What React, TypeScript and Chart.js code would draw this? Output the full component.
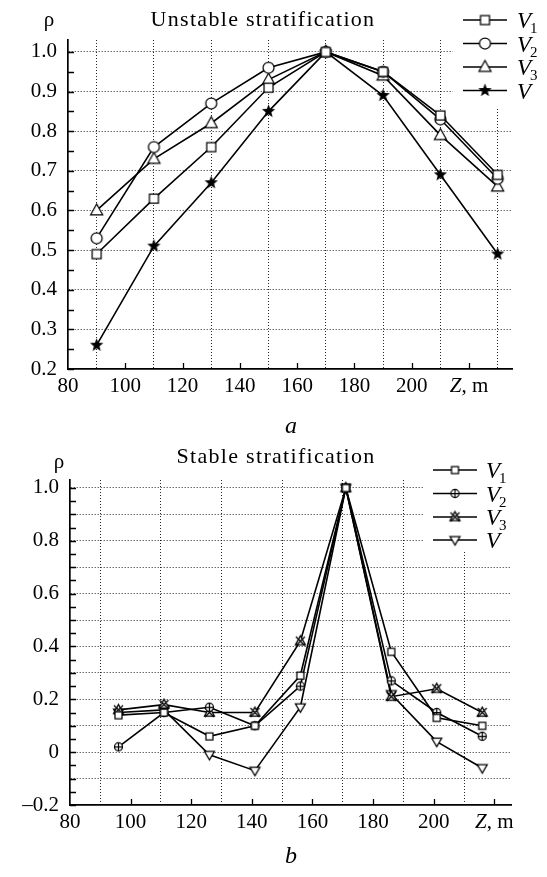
import React, { useEffect, useRef } from 'react';
import { Chart, registerables } from 'chart.js';

Chart.register(...registerables);

const SERIF = '"Liberation Serif", "Times New Roman", serif';

// ---------- (a) Unstable stratification ----------
const Z_UNSTABLE = [90, 110, 130, 150, 170, 190, 210, 230];
const V1_UNSTABLE = [0.49, 0.63, 0.76, 0.91, 1.0, 0.95, 0.84, 0.69];
const V2_UNSTABLE = [0.53, 0.76, 0.87, 0.96, 1.0, 0.95, 0.83, 0.68];
const V3_UNSTABLE = [0.60, 0.73, 0.82, 0.93, 1.0, 0.94, 0.79, 0.66];
const V_UNSTABLE = [0.26, 0.51, 0.67, 0.85, 1.0, 0.89, 0.69, 0.49];

const UNSTABLE_X_TICKS = [80, 90, 100, 110, 120, 130, 140, 150, 160, 170, 180, 190, 200, 210, 220, 230];
const UNSTABLE_X_LABELLED = [80, 100, 120, 140, 160, 180, 200];
const UNSTABLE_X_GRID = [90, 110, 130, 150, 170, 190, 210, 230];
const UNSTABLE_X_MINOR = [100, 120, 140, 160, 180, 200, 220];
const UNSTABLE_Y_TICKS = [0.2, 0.25, 0.3, 0.35, 0.4, 0.45, 0.5, 0.55, 0.6, 0.65, 0.7, 0.75, 0.8, 0.85, 0.9, 0.95, 1.0];
const UNSTABLE_Y_LABELLED = [0.2, 0.3, 0.4, 0.5, 0.6, 0.7, 0.8, 0.9, 1.0];
const UNSTABLE_Y_GRID = [0.3, 0.4, 0.5, 0.6, 0.7, 0.8, 0.9, 1.0];

// ---------- (b) Stable stratification ----------
const Z_STABLE = [96, 111, 126, 141, 156, 171, 186, 201, 216];
const V1_STABLE = [0.14, 0.15, 0.06, 0.10, 0.29, 1.0, 0.38, 0.13, 0.10];
const V2_STABLE = [0.02, 0.15, 0.17, 0.10, 0.25, 1.0, 0.27, 0.15, 0.06];
const V3_STABLE = [0.16, 0.18, 0.15, 0.15, 0.42, 1.0, 0.21, 0.24, 0.15];
const V_STABLE = [0.15, 0.16, -0.01, -0.07, 0.17, 1.0, 0.22, 0.04, -0.06];

const STABLE_X_TICKS = [80, 90, 100, 110, 120, 130, 140, 150, 160, 170, 180, 190, 200, 210, 220];
const STABLE_X_LABELLED = [80, 100, 120, 140, 160, 180, 200];
const STABLE_X_GRID = [90, 110, 130, 150, 170, 190, 210];
const STABLE_X_MINOR = [100, 120, 140, 160, 180, 200, 220];
const STABLE_Y_TICKS = [-0.2, -0.15, -0.1, -0.05, 0, 0.05, 0.1, 0.15, 0.2, 0.25, 0.3, 0.35, 0.4, 0.45, 0.5, 0.55, 0.6, 0.65, 0.7, 0.75, 0.8, 0.85, 0.9, 0.95, 1.0];
const STABLE_Y_LABELLED = [-0.2, 0, 0.2, 0.4, 0.6, 0.8, 1.0];
const STABLE_Y_LABEL_TEXT = ['\u20130.2', '0', '0.2', '0.4', '0.6', '0.8', '1.0'];
const STABLE_Y_GRID = [-0.1, 0, 0.1, 0.2, 0.3, 0.4, 0.5, 0.6, 0.7, 0.8, 0.9, 1.0];

const key = (v: number) => Math.round(v * 100);

function makeMarker(kind: string, size: number): HTMLCanvasElement {
  const dim = 17;
  const c = document.createElement('canvas');
  c.width = dim;
  c.height = dim;
  const g = c.getContext('2d')!;
  const cx = dim / 2;
  const cy = dim / 2;
  const s = size;
  g.lineWidth = 1.25;
  g.strokeStyle = '#000';
  g.fillStyle = '#fff';
  g.beginPath();
  if (kind === 'square') {
    g.rect(cx - s / 2, cy - s / 2, s, s);
    g.fill();
    g.stroke();
  } else if (kind === 'circle') {
    g.arc(cx, cy, s / 2, 0, Math.PI * 2);
    g.fill();
    g.stroke();
  } else if (kind === 'circlePlus') {
    g.arc(cx, cy, s / 2, 0, Math.PI * 2);
    g.fill();
    g.stroke();
    g.beginPath();
    g.moveTo(cx - s / 2, cy);
    g.lineTo(cx + s / 2, cy);
    g.moveTo(cx, cy - s / 2);
    g.lineTo(cx, cy + s / 2);
    g.stroke();
  } else if (kind === 'triangle' || kind === 'triangleX') {
    const h = s * 0.9;
    g.moveTo(cx, cy - h * 0.6);
    g.lineTo(cx + s / 2, cy + h * 0.4);
    g.lineTo(cx - s / 2, cy + h * 0.4);
    g.closePath();
    g.fill();
    g.stroke();
    if (kind === 'triangleX') {
      const a = s * 0.45;
      g.beginPath();
      g.moveTo(cx - a, cy - a);
      g.lineTo(cx + a, cy + a);
      g.moveTo(cx + a, cy - a);
      g.lineTo(cx - a, cy + a);
      g.stroke();
    }
  } else if (kind === 'triangleDown') {
    const h = s * 0.85;
    g.moveTo(cx, cy + h * 0.6);
    g.lineTo(cx + s / 2, cy - h * 0.4);
    g.lineTo(cx - s / 2, cy - h * 0.4);
    g.closePath();
    g.fill();
    g.stroke();
  } else if (kind === 'star') {
    const R = s / 2;
    const r = R * 0.42;
    for (let i = 0; i < 10; i++) {
      const ang = -Math.PI / 2 + (i * Math.PI) / 5;
      const rad = i % 2 === 0 ? R : r;
      const px = cx + rad * Math.cos(ang);
      const py = cy + rad * Math.sin(ang);
      if (i === 0) g.moveTo(px, py);
      else g.lineTo(px, py);
    }
    g.closePath();
    g.fillStyle = '#000';
    g.fill();
  }
  return c;
}

interface Series { label: string; sub: string; data: number[]; marker: HTMLCanvasElement }
interface Spec {
  W: number; H: number;
  left: number; right: number; top: number; bottom: number;
  xMin: number; xMax: number; yMin: number; yMax: number;
  z: number[]; series: Series[];
  xTicks: number[]; xLabelled: number[]; xGrid: number[]; xMinor: number[];
  yTicks: number[]; yLabelled: number[]; yLabelText: string[]; yGrid: number[];
  title: string; titleX: number; titleY: number;
  rhoX: number; rhoY: number;
  legendBox: [number, number, number, number];
  legendX1: number; legendX2: number; legendMarkerX: number; legendTextX: number; legendRows: number[];
  caption: string; captionX: number; captionY: number;
}

const TICK_FONT = { family: SERIF, size: 21, lineHeight: 1.2 };
const X_PAD = 5;
const GRID_COLOR = 'rgba(0,0,0,0.85)';

function buildConfig(spec: Spec): any {
  const gridX = new Set(spec.xGrid.map(key));
  const gridY = new Set(spec.yGrid.map(key));
  const xLab = new Set(spec.xLabelled.map(key));
  const yLabMap = new Map<number, string>();
  spec.yLabelled.forEach((v, i) => yLabMap.set(key(v), spec.yLabelText[i]));

  const decor = {
    id: 'decor',
    beforeDraw(chart: any) {
      const ctx = chart.ctx;
      ctx.save();
      ctx.fillStyle = '#fff';
      ctx.fillRect(0, 0, chart.width, chart.height);
      ctx.restore();
    },
    afterDraw(chart: any) {
      const ctx = chart.ctx;
      const xs = chart.scales.x;
      const ys = chart.scales.y;
      const area = chart.chartArea;
      ctx.save();
      // inward tick marks
      ctx.strokeStyle = '#000';
      ctx.lineWidth = 1.3;
      ctx.beginPath();
      for (const t of ys.ticks) {
        const py = Math.round(ys.getPixelForValue(t.value)) + 0.5;
        ctx.moveTo(area.left, py);
        ctx.lineTo(area.left + 6, py);
      }
      for (const v of spec.xMinor) {
        const px = Math.round(xs.getPixelForValue(v)) + 0.5;
        ctx.moveTo(px, area.bottom);
        ctx.lineTo(px, area.bottom - 6);
      }
      ctx.stroke();

      // legend
      const [bx, by, bw, bh] = spec.legendBox;
      ctx.fillStyle = '#fff';
      ctx.fillRect(bx, by, bw, bh);
      spec.series.forEach((s, i) => {
        const y = spec.legendRows[i];
        ctx.strokeStyle = '#000';
        ctx.lineWidth = 1.6;
        ctx.beginPath();
        ctx.moveTo(spec.legendX1, y);
        ctx.lineTo(spec.legendX2, y);
        ctx.stroke();
        const m = s.marker;
        ctx.drawImage(m, spec.legendMarkerX - m.width / 2, y - m.height / 2);
        ctx.fillStyle = '#000';
        ctx.textBaseline = 'alphabetic';
        ctx.textAlign = 'left';
        ctx.font = `italic 23px ${SERIF}`;
        ctx.fillText(s.label, spec.legendTextX, y + 8);
        if (s.sub) {
          const w = ctx.measureText(s.label).width;
          ctx.font = `15px ${SERIF}`;
          ctx.fillText(s.sub, spec.legendTextX + w - 1, y + 13);
        }
      });

      // title
      ctx.fillStyle = '#000';
      ctx.textAlign = 'center';
      ctx.textBaseline = 'middle';
      ctx.font = `22px ${SERIF}`;
      (ctx as any).letterSpacing = '1.3px';
      ctx.fillText(spec.title, spec.titleX, spec.titleY);
      (ctx as any).letterSpacing = '0px';

      // rho
      ctx.font = `21px ${SERIF}`;
      ctx.fillText('\u03c1', spec.rhoX, spec.rhoY);

      // axis title "Z, m" in place of the 220 label
      const zx = xs.getPixelForValue(220);
      const ly = area.bottom + X_PAD + (TICK_FONT.size * TICK_FONT.lineHeight) / 2;
      ctx.font = `italic 21px ${SERIF}`;
      const wz = ctx.measureText('Z').width;
      ctx.font = `21px ${SERIF}`;
      const wr = ctx.measureText(', m').width;
      const start = zx - (wz + wr) / 2;
      ctx.textAlign = 'left';
      ctx.font = `italic 21px ${SERIF}`;
      ctx.fillText('Z', start, ly);
      ctx.font = `21px ${SERIF}`;
      ctx.fillText(', m', start + wz, ly);

      // caption
      ctx.textAlign = 'center';
      ctx.font = `italic 24px ${SERIF}`;
      ctx.fillText(spec.caption, spec.captionX, spec.captionY);
      ctx.restore();
    },
  };

  return {
    type: 'line',
    data: {
      datasets: spec.series.map((s) => ({
        label: s.label + s.sub,
        data: spec.z.map((z, i) => ({ x: z, y: s.data[i] })),
        borderColor: '#000',
        backgroundColor: '#fff',
        borderWidth: 1.6,
        pointStyle: s.marker,
        pointRadius: 6,
        pointHoverRadius: 6,
        fill: false,
        tension: 0,
      })),
    },
    options: {
      animation: false,
      responsive: false,
      maintainAspectRatio: false,
      events: [],
      layout: { padding: { left: 0, top: spec.top, right: spec.W - spec.right, bottom: 0 } },
      plugins: { legend: { display: false }, title: { display: false }, tooltip: { enabled: false } },
      scales: {
        x: {
          type: 'linear',
          min: spec.xMin,
          max: spec.xMax,
          afterBuildTicks: (s: any) => { s.ticks = spec.xTicks.map((v) => ({ value: v })); },
          afterFit: (s: any) => { s.height = spec.H - spec.bottom; s.paddingLeft = 0; s.paddingRight = 0; },
          ticks: {
            autoSkip: false,
            maxRotation: 0,
            minRotation: 0,
            padding: X_PAD,
            color: '#000',
            font: TICK_FONT,
            callback: (v: number) => (xLab.has(key(v)) ? String(v) : ''),
          },
          grid: {
            drawTicks: false,
            lineWidth: 1,
            color: (c: any) => (c.tick && gridX.has(key(c.tick.value)) ? GRID_COLOR : 'rgba(0,0,0,0)'),
          },
          border: { display: true, color: '#000', width: 1.7, dash: [1, 2] },
        },
        y: {
          type: 'linear',
          min: spec.yMin,
          max: spec.yMax,
          afterBuildTicks: (s: any) => { s.ticks = spec.yTicks.map((v) => ({ value: v })); },
          afterFit: (s: any) => { s.width = spec.left; s.paddingTop = 0; s.paddingBottom = 0; },
          ticks: {
            autoSkip: false,
            padding: 11,
            color: '#000',
            font: TICK_FONT,
            callback: (v: number) => yLabMap.get(key(v)) ?? '',
          },
          grid: {
            drawTicks: false,
            lineWidth: 1,
            color: (c: any) => (c.tick && gridY.has(key(c.tick.value)) ? GRID_COLOR : 'rgba(0,0,0,0)'),
          },
          border: { display: true, color: '#000', width: 1.7, dash: [1, 2] },
        },
      },
    },
    plugins: [decor],
  };
}

function makeSpecs(): Spec[] {
  const unstable: Spec = {
    W: 547, H: 440,
    left: 68, right: 512, top: 40, bottom: 369,
    xMin: 80, xMax: 235, yMin: 0.2, yMax: 1.03,
    z: Z_UNSTABLE,
    series: [
      { label: 'V', sub: '1', data: V1_UNSTABLE, marker: makeMarker('square', 9) },
      { label: 'V', sub: '2', data: V2_UNSTABLE, marker: makeMarker('circle', 11) },
      { label: 'V', sub: '3', data: V3_UNSTABLE, marker: makeMarker('triangle', 12) },
      { label: 'V', sub: '', data: V_UNSTABLE, marker: makeMarker('star', 14) },
    ],
    xTicks: UNSTABLE_X_TICKS, xLabelled: UNSTABLE_X_LABELLED, xGrid: UNSTABLE_X_GRID, xMinor: UNSTABLE_X_MINOR,
    yTicks: UNSTABLE_Y_TICKS, yLabelled: UNSTABLE_Y_LABELLED,
    yLabelText: UNSTABLE_Y_LABELLED.map((v) => v.toFixed(1)), yGrid: UNSTABLE_Y_GRID,
    title: 'Unstable stratification', titleX: 263, titleY: 20,
    rhoX: 49, rhoY: 20,
    legendBox: [453, 0, 94, 108],
    legendX1: 463, legendX2: 507, legendMarkerX: 485, legendTextX: 517,
    legendRows: [20, 43.5, 67, 90.5],
    caption: 'a', captionX: 291, captionY: 427,
  };
  const stable: Spec = {
    W: 547, H: 437,
    left: 70, right: 511, top: 40, bottom: 365,
    xMin: 80, xMax: 225.5, yMin: -0.2, yMax: 1.03,
    z: Z_STABLE,
    series: [
      { label: 'V', sub: '1', data: V1_STABLE, marker: makeMarker('square', 7) },
      { label: 'V', sub: '2', data: V2_STABLE, marker: makeMarker('circlePlus', 8) },
      { label: 'V', sub: '3', data: V3_STABLE, marker: makeMarker('triangleX', 10) },
      { label: 'V', sub: '', data: V_STABLE, marker: makeMarker('triangleDown', 10) },
    ],
    xTicks: STABLE_X_TICKS, xLabelled: STABLE_X_LABELLED, xGrid: STABLE_X_GRID, xMinor: STABLE_X_MINOR,
    yTicks: STABLE_Y_TICKS, yLabelled: STABLE_Y_LABELLED, yLabelText: STABLE_Y_LABEL_TEXT, yGrid: STABLE_Y_GRID,
    title: 'Stable stratification', titleX: 276, titleY: 17,
    rhoX: 59, rhoY: 22,
    legendBox: [423, 0, 124, 112],
    legendX1: 433, legendX2: 477, legendMarkerX: 455, legendTextX: 486,
    legendRows: [30, 53.5, 77, 100],
    caption: 'b', captionX: 291, captionY: 417,
  };
  return [unstable, stable];
}

function Panel({ which, top, height }: { which: number; top: number; height: number }) {
  const ref = useRef<HTMLCanvasElement>(null);
  useEffect(() => {
    const spec = makeSpecs()[which];
    const chart = new Chart(ref.current!, buildConfig(spec));
    return () => chart.destroy();
  }, [which]);
  return (
    <canvas
      ref={ref}
      width={547}
      height={height}
      style={{ position: 'absolute', left: 0, top, width: 547, height, display: 'block' }}
    />
  );
}

export default function App() {
  return (
    <div style={{ position: 'absolute', left: 0, top: 0, width: 547, height: 877, background: '#fff' }}>
      <Panel which={0} top={0} height={440} />
      <Panel which={1} top={440} height={437} />
    </div>
  );
}
